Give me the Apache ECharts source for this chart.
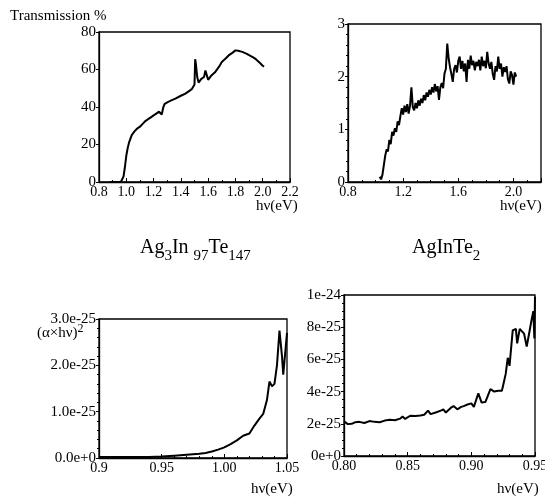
<!DOCTYPE html>
<html>
<head>
<meta charset="utf-8">
<script src="https://cdn.jsdelivr.net/npm/echarts@6.0.0/dist/echarts.min.js"></script>
<style>
  html, body { margin: 0; background: #fff; }
  #chart { width: 545px; height: 500px; }
</style>
</head>
<body>
<div id="chart"></div>
<script>
// Ag3In97Te147 transmission (%) vs photon energy
var hvA = [0.88, 0.96, 0.97, 0.98, 0.99, 1.00, 1.01, 1.02, 1.04, 1.06, 1.08, 1.10, 1.12, 1.14, 1.16, 1.18, 1.20, 1.22, 1.24, 1.25, 1.26, 1.27, 1.28, 1.30, 1.33, 1.36, 1.40, 1.43, 1.46, 1.48, 1.49, 1.50, 1.505, 1.51, 1.52, 1.53, 1.55, 1.57, 1.58, 1.59, 1.60, 1.62, 1.65, 1.68, 1.70, 1.73, 1.75, 1.78, 1.80, 1.82, 1.85, 1.88, 1.90, 1.93, 1.95, 1.98, 2.00, 2.01];
var transA = [0, 0, 0.5, 3, 8, 14, 18, 21, 25, 27, 28.5, 29.5, 31, 32.5, 33.5, 34.5, 35.5, 36.5, 37.5, 38, 36, 39.5, 41.5, 42.5, 43.5, 44.5, 46, 47, 48.5, 49.5, 50, 52, 65.5, 63, 56, 53, 55, 56, 59.5, 57, 54.5, 56.5, 58.5, 61.5, 64, 66, 67.5, 69, 70.2, 70, 69.4, 68.5, 67.7, 66.5, 65.5, 63.5, 62, 61.5];

// AgInTe2 transmission vs photon energy
var hvB = [1.03, 1.04, 1.05, 1.06, 1.07, 1.08, 1.09, 1.10, 1.11, 1.12, 1.13, 1.14, 1.15, 1.16, 1.17, 1.18, 1.19, 1.20, 1.21, 1.22, 1.23, 1.24, 1.25, 1.26, 1.27, 1.28, 1.29, 1.30, 1.31, 1.32, 1.33, 1.34, 1.35, 1.36, 1.37, 1.38, 1.39, 1.40, 1.41, 1.42, 1.43, 1.44, 1.45, 1.46, 1.47, 1.48, 1.49, 1.50, 1.51, 1.52, 1.53, 1.54, 1.55, 1.56, 1.57, 1.58, 1.59, 1.60, 1.61, 1.62, 1.63, 1.64, 1.65, 1.66, 1.67, 1.68, 1.69, 1.70, 1.71, 1.72, 1.73, 1.74, 1.75, 1.76, 1.77, 1.78, 1.79, 1.80, 1.81, 1.82, 1.83, 1.84, 1.85, 1.86, 1.87, 1.88, 1.89, 1.90, 1.91, 1.92, 1.93, 1.94, 1.95, 1.96, 1.97, 1.98, 1.99, 2.00, 2.01, 2.02];
var transB = [0.10, 0.05, 0.14, 0.12, 0.50, 0.62, 0.58, 0.80, 0.72, 0.95, 0.88, 1.02, 0.95, 1.15, 1.08, 1.25, 1.40, 1.28, 1.45, 1.33, 1.48, 1.30, 1.45, 1.80, 1.42, 1.36, 1.50, 1.40, 1.55, 1.45, 1.58, 1.50, 1.65, 1.55, 1.70, 1.62, 1.75, 1.66, 1.80, 1.70, 1.86, 1.72, 1.82, 1.56, 1.80, 1.88, 1.78, 2.06, 2.15, 2.63, 2.35, 2.18, 2.05, 1.90, 2.15, 2.22, 2.08, 2.30, 2.38, 2.15, 2.30, 2.10, 2.25, 1.90, 2.32, 2.15, 2.40, 2.22, 2.30, 2.12, 2.28, 2.20, 2.32, 2.12, 2.38, 2.20, 2.30, 2.16, 2.47, 2.25, 2.15, 2.28, 2.05, 1.94, 2.20, 2.10, 2.38, 2.15, 2.25, 2.00, 2.18, 2.09, 2.20, 1.95, 1.87, 2.10, 2.03, 1.85, 2.08, 2.00];

// Ag3In97Te147 (alpha*hv)^2, in units of 1e-25
var hvC = [0.900, 0.920, 0.940, 0.950, 0.960, 0.970, 0.980, 0.985, 0.990, 0.995, 1.000, 1.005, 1.010, 1.015, 1.020, 1.024, 1.028, 1.031, 1.034, 1.036, 1.038, 1.040, 1.042, 1.044, 1.046, 1.047, 1.049, 1.050];
var absC = [0.02, 0.02, 0.02, 0.03, 0.05, 0.07, 0.09, 0.11, 0.14, 0.18, 0.23, 0.30, 0.38, 0.48, 0.53, 0.70, 0.85, 0.95, 1.25, 1.65, 1.55, 1.60, 2.00, 2.75, 2.20, 1.80, 2.40, 2.70];

// AgInTe2 (alpha*hv)^2, in units of 1e-25
var hvD = [0.800, 0.803, 0.806, 0.809, 0.812, 0.816, 0.820, 0.824, 0.828, 0.832, 0.836, 0.840, 0.844, 0.846, 0.848, 0.852, 0.856, 0.860, 0.863, 0.866, 0.868, 0.872, 0.876, 0.878, 0.880, 0.884, 0.886, 0.889, 0.892, 0.894, 0.897, 0.900, 0.902, 0.9055, 0.908, 0.911, 0.915, 0.918, 0.921, 0.924, 0.925, 0.927, 0.9286, 0.930, 0.9325, 0.935, 0.936, 0.938, 0.9414, 0.9435, 0.9456, 0.9474, 0.9487, 0.9495, 0.950];
var absD = [2.15, 1.98, 2.00, 2.10, 2.12, 2.05, 2.17, 2.12, 2.10, 2.20, 2.25, 2.22, 2.32, 2.45, 2.30, 2.50, 2.48, 2.52, 2.56, 2.82, 2.60, 2.70, 2.82, 2.90, 2.70, 3.00, 3.10, 2.90, 3.05, 3.10, 3.20, 3.27, 3.05, 3.90, 3.33, 3.35, 4.15, 4.00, 4.05, 4.05, 4.40, 5.10, 6.10, 5.60, 7.80, 7.90, 7.00, 7.90, 7.60, 6.80, 7.70, 8.50, 9.00, 7.30, 9.90];

var yTicksC = ['0.0e+0', '1.0e-25', '2.0e-25', '3.0e-25'];
var yTicksD = ['0e+0', '2e-25', '4e-25', '6e-25', '8e-25', '1e-24'];

var FONT = 'Liberation Serif';

function pairs(xs, ys) {
  var out = [];
  for (var i = 0; i < xs.length; i++) out.push([xs[i], ys[i]]);
  return out;
}

function grid(left, top, width, height) {
  return {
    left: left, top: top, width: width, height: height,
    show: true, borderColor: '#000', borderWidth: 1.3,
    backgroundColor: 'transparent', outerBoundsMode: 'none'
  };
}

function xAxis(idx, min, max, interval, fmt, minorSplit, showMax) {
  return {
    type: 'value', gridIndex: idx, min: min, max: max, interval: interval,
    axisLine: { show: true, onZero: false, lineStyle: { color: '#000', width: 1.3 } },
    axisTick: { show: true, inside: true, length: 4, lineStyle: { color: '#000' } },
    minorTick: { show: true, splitNumber: minorSplit, length: 2, lineStyle: { color: '#000' } },
    splitLine: { show: false },
    axisLabel: { color: '#000', fontFamily: FONT, fontSize: 14, margin: 3, formatter: fmt, showMinLabel: true, showMaxLabel: showMax }
  };
}

function yAxis(idx, min, max, interval, fmt, minorSplit) {
  return {
    type: 'value', gridIndex: idx, min: min, max: max, interval: interval,
    axisLine: { show: true, onZero: false, lineStyle: { color: '#000', width: 1.3 } },
    axisTick: { show: true, inside: false, length: 3, lineStyle: { color: '#000' } },
    minorTick: { show: minorSplit > 0, splitNumber: minorSplit || 5, length: 2, lineStyle: { color: '#000' } },
    splitLine: { show: false },
    axisLabel: { color: '#000', fontFamily: FONT, fontSize: 15, margin: 3, formatter: fmt }
  };
}

function line(idx, data, width) {
  return {
    type: 'line', xAxisIndex: idx, yAxisIndex: idx, data: data,
    showSymbol: false, symbol: 'none', clip: true, silent: true,
    lineStyle: { color: '#000', width: width }
  };
}

function label(x, y, text, size) {
  return {
    type: 'text', x: x, y: y, silent: true,
    style: { text: text, fill: '#000', font: size + 'px "' + FONT + '"', verticalAlign: 'top' }
  };
}

var option = {
  backgroundColor: '#fff',
  animation: false,
  grid: [
    grid(99, 32, 191, 150),
    grid(348, 24, 193, 158),
    grid(99, 319, 188, 139),
    grid(344, 295, 191, 161)
  ],
  xAxis: [
    xAxis(0, 0.8, 2.2, 0.2, function (v) { return v.toFixed(1); }, 2, true),
    xAxis(1, 0.8, 2.2, 0.4, function (v) { return v.toFixed(1); }, 4, false),
    xAxis(2, 0.9, 1.05, 0.05, function (v) { return Math.abs(v - 0.9) < 1e-9 ? '0.9' : v.toFixed(2); }, 5, true),
    xAxis(3, 0.8, 0.95, 0.05, function (v) { return v.toFixed(2); }, 5, true)
  ],
  yAxis: [
    yAxis(0, 0, 80, 20, function (v) { return String(v); }, 0),
    yAxis(1, 0, 3, 1, function (v) { return String(v); }, 5),
    yAxis(2, 0, 3, 1, function (v) { return yTicksC[Math.round(v)]; }, 5),
    yAxis(3, 0, 10, 2, function (v) { return yTicksD[Math.round(v / 2)]; }, 4)
  ],
  series: [
    line(0, pairs(hvA, transA), 2),
    line(1, pairs(hvB, transB), 2),
    line(2, pairs(hvC, absC), 2),
    line(3, pairs(hvD, absD), 2)
  ],
  graphic: [
    label(10, 9, 'Transmission %', 15),
    label(256, 199, 'hν(eV)', 15),
    label(500, 199, 'hν(eV)', 15),
    label(251, 482, 'hν(eV)', 15),
    label(497, 482, 'hν(eV)', 15),
    {
      type: 'text', x: 140, y: 238, silent: true,
      style: {
        text: '{n|Ag}{s|3}{n|In }{s|97}{n|Te}{s|147}', fill: '#000', verticalAlign: 'top',
        rich: {
          n: { fontFamily: FONT, fontSize: 20, lineHeight: 22, verticalAlign: 'top' },
          s: { fontFamily: FONT, fontSize: 15, lineHeight: 15, padding: [11, 0, 0, 0], verticalAlign: 'top' }
        }
      }
    },
    {
      type: 'text', x: 412, y: 238, silent: true,
      style: {
        text: '{n|AgInTe}{s|2}', fill: '#000', verticalAlign: 'top',
        rich: {
          n: { fontFamily: FONT, fontSize: 20, lineHeight: 22, verticalAlign: 'top' },
          s: { fontFamily: FONT, fontSize: 15, lineHeight: 15, padding: [11, 0, 0, 0], verticalAlign: 'top' }
        }
      }
    },
    {
      type: 'text', x: 37, y: 322, silent: true,
      style: {
        text: '{n|(α×hν)}{p|2}', fill: '#000', verticalAlign: 'top',
        rich: {
          n: { fontFamily: FONT, fontSize: 15, lineHeight: 16, padding: [4, 0, 0, 0], verticalAlign: 'top' },
          p: { fontFamily: FONT, fontSize: 12, lineHeight: 12, padding: [1, 0, 0, 0], verticalAlign: 'top' }
        }
      }
    }
  ]
};

var myChart = echarts.init(document.getElementById('chart'), null, { renderer: 'canvas' });
myChart.setOption(option);
</script>
</body>
</html>
